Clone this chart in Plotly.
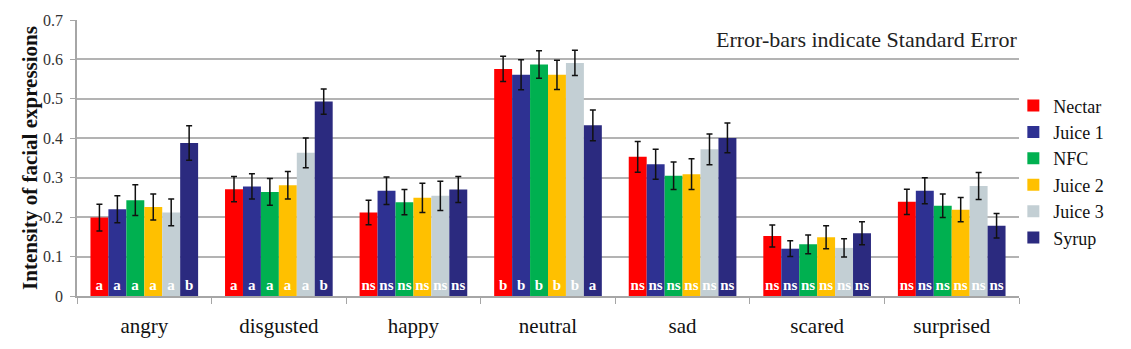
import plotly.graph_objects as go

categories = ["angry", "disgusted", "happy", "neutral", "sad", "scared", "surprised"]
series_names = ["Nectar", "Juice 1", "NFC", "Juice 2", "Juice 3", "Syrup"]

nectar = [0.199, 0.271, 0.212, 0.576, 0.353, 0.152, 0.239]
juice1 = [0.220, 0.278, 0.267, 0.561, 0.334, 0.120, 0.267]
nfc = [0.243, 0.264, 0.238, 0.587, 0.305, 0.131, 0.229]
juice2 = [0.226, 0.281, 0.249, 0.561, 0.309, 0.149, 0.219]
juice3 = [0.212, 0.363, 0.254, 0.591, 0.372, 0.122, 0.279]
syrup = [0.388, 0.493, 0.270, 0.433, 0.401, 0.159, 0.178]

nectar_se = [0.034, 0.032, 0.031, 0.032, 0.039, 0.028, 0.032]
juice1_se = [0.034, 0.032, 0.035, 0.038, 0.038, 0.020, 0.033]
nfc_se = [0.039, 0.034, 0.032, 0.035, 0.035, 0.024, 0.030]
juice2_se = [0.033, 0.035, 0.037, 0.037, 0.039, 0.029, 0.031]
juice3_se = [0.034, 0.038, 0.037, 0.032, 0.039, 0.023, 0.034]
syrup_se = [0.044, 0.032, 0.033, 0.039, 0.038, 0.029, 0.031]

nectar_sig = ["a", "a", "ns", "b", "ns", "ns", "ns"]
juice1_sig = ["a", "a", "ns", "b", "ns", "ns", "ns"]
nfc_sig = ["a", "a", "ns", "b", "ns", "ns", "ns"]
juice2_sig = ["a", "a", "ns", "b", "ns", "ns", "ns"]
juice3_sig = ["a", "a", "ns", "b", "ns", "ns", "ns"]
syrup_sig = ["b", "b", "ns", "a", "ns", "ns", "ns"]

colors = ["#FF0000", "#2E3192", "#00B050", "#FFC000", "#C3CFD4", "#2B2A7F"]

values = [nectar, juice1, nfc, juice2, juice3, syrup]
errors = [nectar_se, juice1_se, nfc_se, juice2_se, juice3_se, syrup_se]
sigs = [nectar_sig, juice1_sig, nfc_sig, juice2_sig, juice3_sig, syrup_sig]

SERIF = "Liberation Serif, Times New Roman, serif"

fig = go.Figure()
for name, v, e, s, c in zip(series_names, values, errors, sigs, colors):
    fig.add_trace(go.Bar(
        name=name, x=categories, y=v,
        marker=dict(color=c, line=dict(width=0)),
        error_y=dict(type="data", array=e, visible=True, color="#111111", thickness=1.5, width=3),
        text=s, textposition="inside", insidetextanchor="start", textangle=0,
        textfont=dict(family=SERIF, size=15, color="white", weight="bold"),
        cliponaxis=False,
    ))

fig.update_layout(
    width=1131, height=349,
    margin=dict(l=77, r=112, t=16, b=52.5),
    paper_bgcolor="white", plot_bgcolor="white",
    barmode="group", bargap=0.2, bargroupgap=0,
    uniformtext=dict(mode="show", minsize=15),
    font=dict(family=SERIF, color="#222222"),
    showlegend=True,
    legend=dict(x=0.994, xanchor="left", y=0.756, yanchor="top",
                font=dict(family=SERIF, size=18, color="#111111"),
                itemwidth=30, bgcolor="rgba(0,0,0,0)"),
    xaxis=dict(
        showline=True, linecolor="#A6A6A6", linewidth=1.5,
        ticks="outside", tickson="boundaries", ticklen=6, tickcolor="#A6A6A6", tickwidth=1.2,
        tickfont=dict(family=SERIF, size=21, color="#111111"),
        ticklabelstandoff=10, automargin=False,
        showgrid=False,
    ),
    yaxis=dict(
        range=[0, 0.7], dtick=0.1, tick0=0,
        showline=True, linecolor="#A6A6A6", linewidth=1.5,
        ticks="outside", ticklen=5, tickcolor="#A6A6A6", tickwidth=1.2,
        showgrid=True, gridcolor="#B3B3B3", gridwidth=1.5,
        zeroline=False,
        tickfont=dict(family=SERIF, size=16, color="#333333"),
        ticklabelstandoff=4,
        title=dict(text="<b>Intensity of facial expressions</b>",
                   font=dict(family=SERIF, size=21, color="#111111"), standoff=0),
    ),
    annotations=[dict(
        text="Error-bars indicate Standard Error", x=1.0, xref="paper", xanchor="right",
        y=0.929, yref="paper", yanchor="middle", showarrow=False,
        font=dict(family=SERIF, size=22, color="#222222"),
    )],
)

fig.write_html("out.html")
